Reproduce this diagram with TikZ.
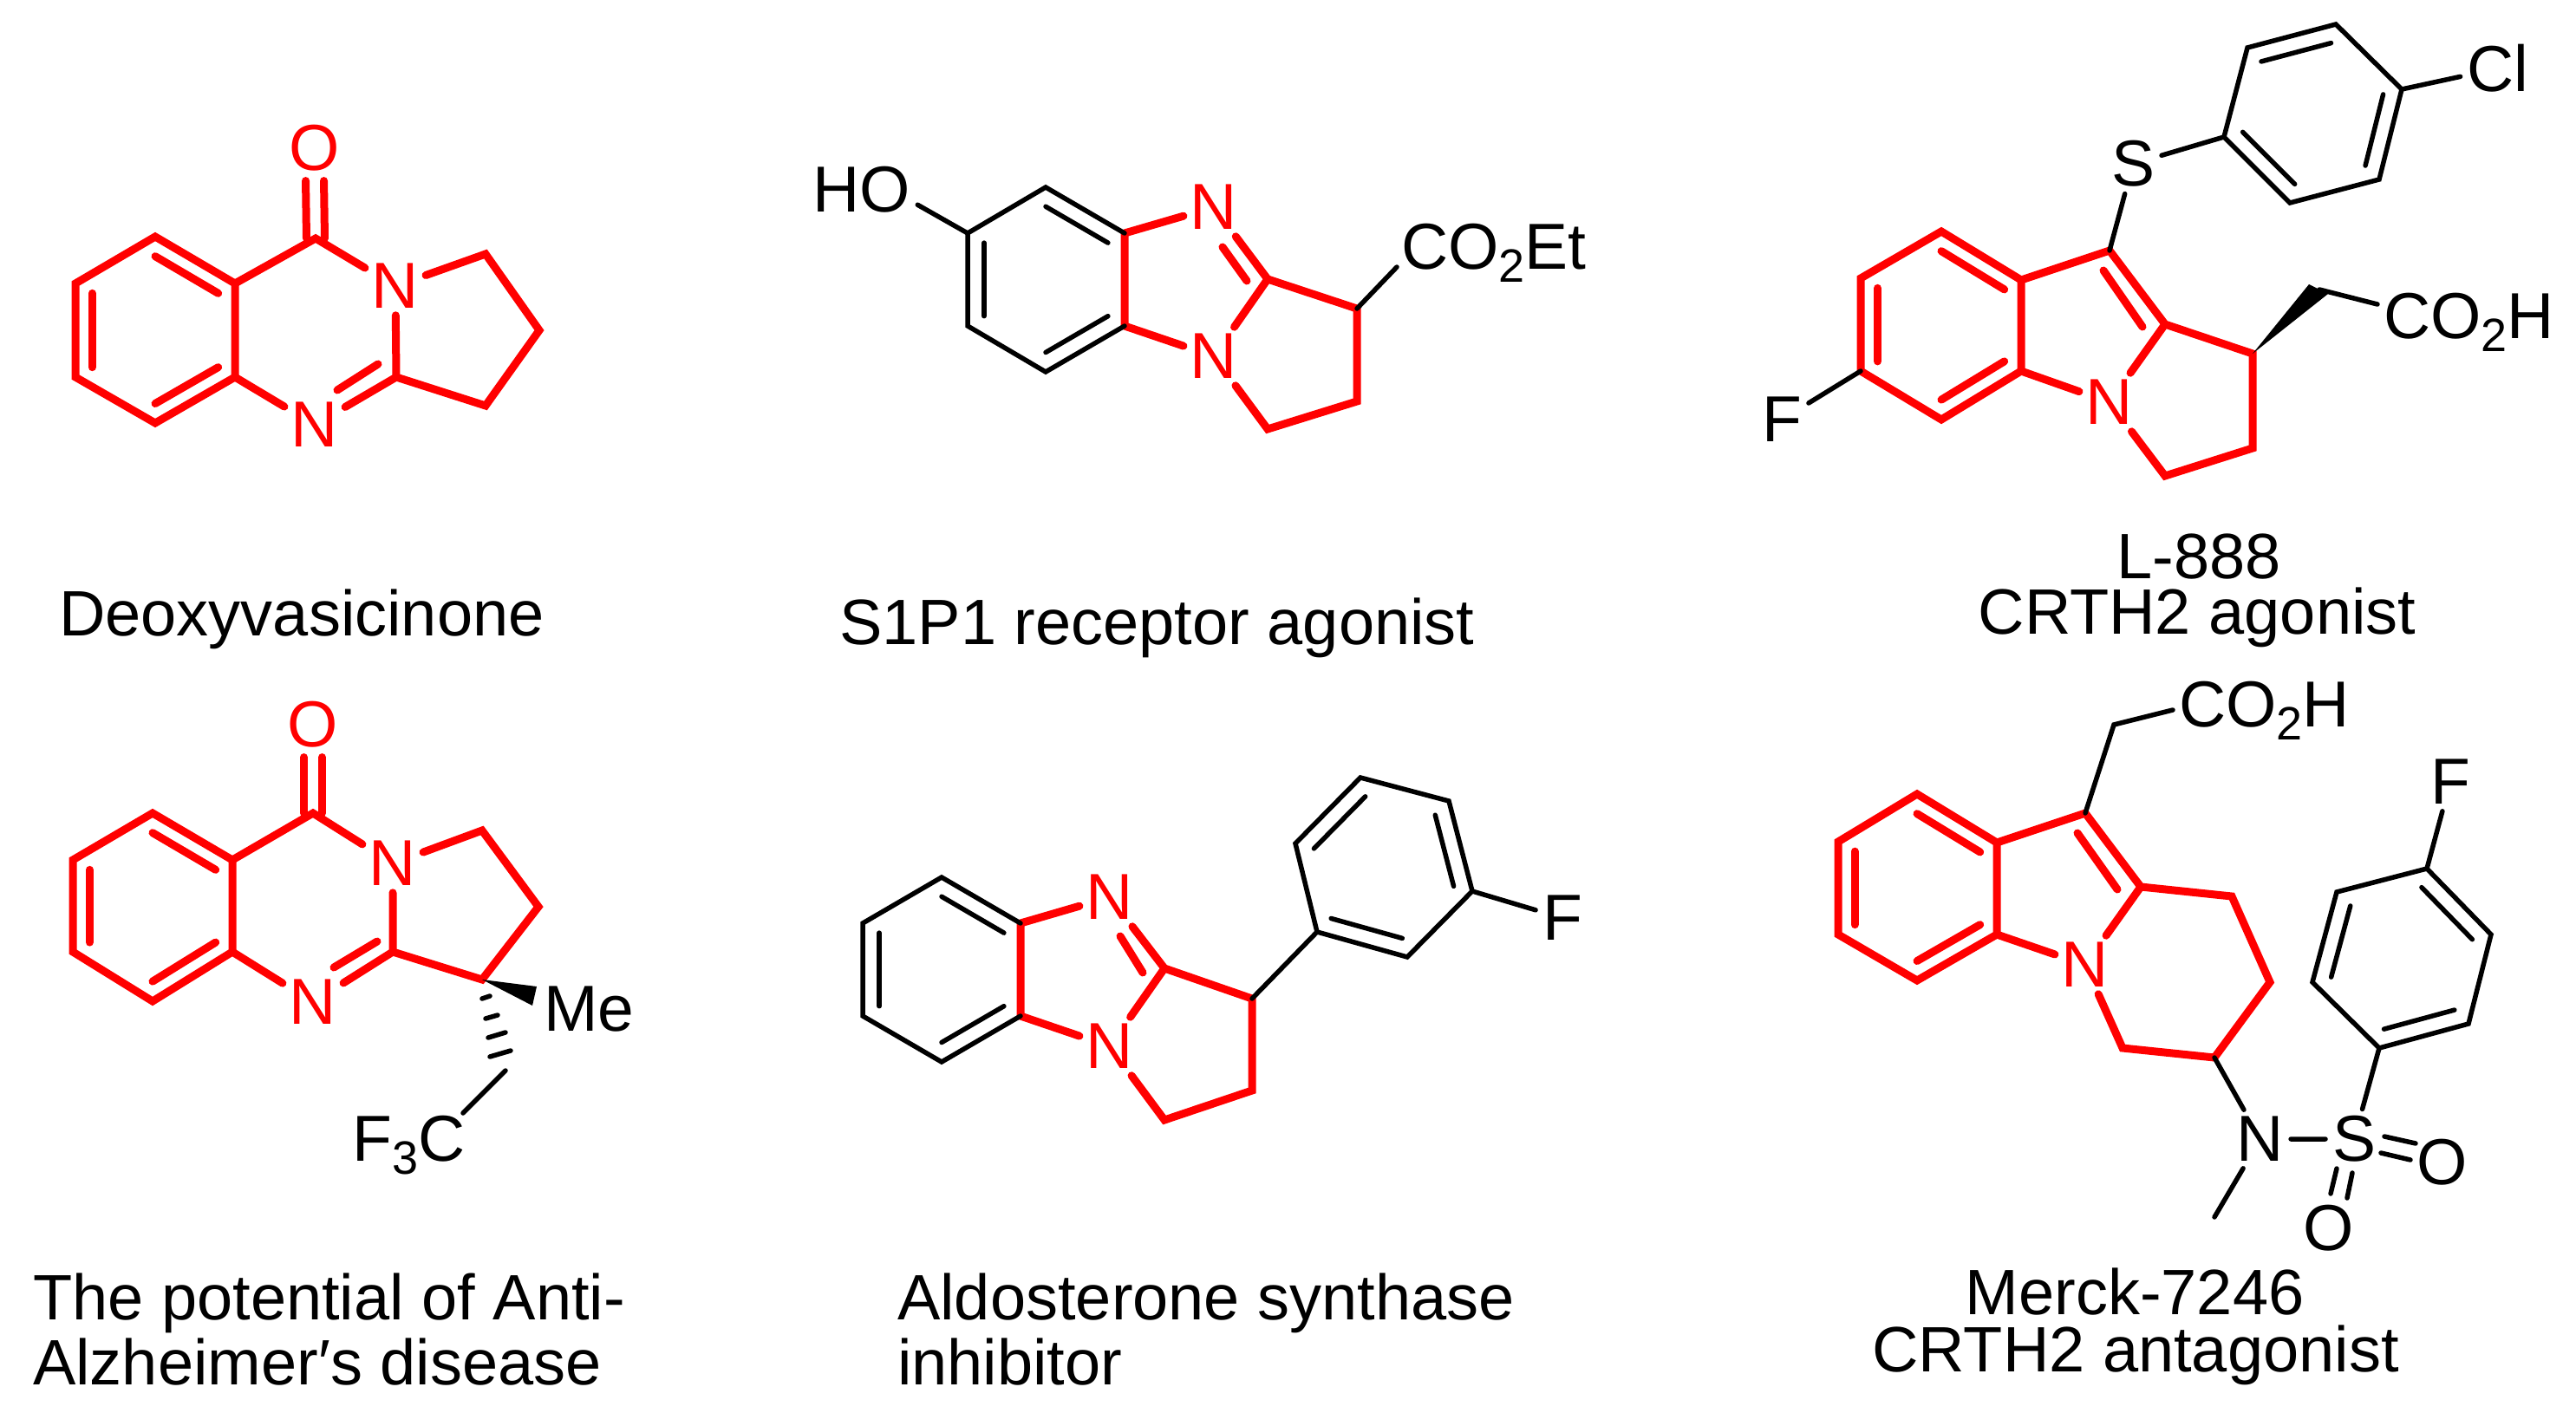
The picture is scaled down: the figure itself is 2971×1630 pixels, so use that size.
\documentclass[tikz,border=0pt]{standalone}
\usepackage{fontspec}
\setmainfont{Liberation Sans}
\usetikzlibrary{calc}
\newcommand{\chemsub}[1]{\raisebox{-15pt}{\fontsize{54}{54}\selectfont #1}}
\newcommand{\inbond}[4]{\draw[#1] ($(#2)!.79!(#3)$) -- ($(#2)!.79!(#4)$);}

\begin{document}
\begin{tikzpicture}[
   x=1pt,y=-1pt,
   font=\fontsize{75}{80}\selectfont,
   redbond/.style={red,line width=9pt,line cap=round,line join=miter},
   blackbond/.style={black,line width=5.5pt,line cap=round,line join=miter},
   atom/.style={inner sep=0pt,outer sep=8pt},
   redatom/.style={atom,text=red},
   formula/.style={inner sep=0pt,anchor=base west},
   caption/.style={inner sep=0pt,anchor=base west,font=\fontsize{74}{80}\selectfont},
   captionmid/.style={inner sep=0pt,anchor=base,font=\fontsize{74}{80}\selectfont}
  ]
  \useasboundingbox (0,0) rectangle (2971,1630);
  % deoxyvasicinone
  \coordinate (a1) at (179,273);
  \coordinate (a2) at (87,327);
  \coordinate (a3) at (87,435);
  \coordinate (a4) at (179,488);
  \coordinate (a5) at (271,435);
  \coordinate (a6) at (271,327);
  \coordinate (a7) at (364,275);
  \coordinate (a10) at (457,435);
  \coordinate (a11) at (560,468);
  \coordinate (a12) at (622,381);
  \coordinate (a13) at (560,293);
  \coordinate (ac) at (179,381);
  \coordinate (a15) at (389,450);
  \coordinate (a16) at (436,420);
  \node[redatom] (a8) at (456,330) {N};
  \node[redatom] (a9) at (363,490) {N};
  \node[redatom] (a14) at (363,171) {O};
  \draw[redbond] (a1) -- (a2) -- (a3) -- (a4) -- (a5) -- (a6) -- cycle;
  \draw[redbond] (a6) -- (a7) -- (a8) -- (a10) -- (a9) -- (a5);
  \draw[redbond] (a8) -- (a13) -- (a12) -- (a11) -- (a10);
  \draw[redbond,shorten >=3pt] ([xshift=-10.5pt]a7) -- ([xshift=-10.5pt]a14.south);
  \draw[redbond,shorten >=3pt] ([xshift=10.5pt]a7) -- ([xshift=10.5pt]a14.south);
  \draw[redbond] (a15) -- (a16);
  \inbond{redbond}{ac}{a1}{a6}
  \inbond{redbond}{ac}{a2}{a3}
  \inbond{redbond}{ac}{a4}{a5}
  \node[caption] (a17) at (68,733) {Deoxyvasicinone};

  % S1P1 agonist
  \coordinate (b1) at (1116,269);
  \coordinate (b2) at (1206,216);
  \coordinate (b3) at (1297,269);
  \coordinate (b4) at (1297,376);
  \coordinate (b5) at (1206,429);
  \coordinate (b6) at (1116,376);
  \coordinate (bc) at (1206,322);
  \coordinate (b7) at (1462,322);
  \coordinate (b8) at (1565,356);
  \coordinate (b9) at (1565,463);
  \coordinate (b10) at (1462,495);
  \coordinate (b11) at (1611,308);
  \coordinate (b12) at (1410,285);
  \coordinate (b13) at (1438,324);
  \node[redatom] (bn1) at (1400,239) {N};
  \node[redatom] (bn2) at (1400,411) {N};
  \node[atom] (bho) at (994,219) {HO};
  \node[formula] (bco) at (1616,310) {CO\chemsub{2}Et};
  \draw[redbond] (b3) -- (b4) -- (bn2) -- (b7) -- (bn1) -- (b3);
  \draw[redbond] (b7) -- (b8) -- (b9) -- (b10) -- (bn2);
  \draw[redbond] (b12) -- (b13);
  \draw[blackbond] (b3) -- (b2) -- (b1) -- (b6) -- (b5) -- (b4);
  \draw[blackbond] (b1) -- (bho.-15);
  \draw[blackbond] (b8) -- (b11);
  \inbond{blackbond}{bc}{b2}{b3}
  \inbond{blackbond}{bc}{b1}{b6}
  \inbond{blackbond}{bc}{b4}{b5}
  \node[caption] (b14) at (968,743) {S1P1 receptor agonist};

  % L-888
  \coordinate (i1) at (2239,267);
  \coordinate (i2) at (2146,321);
  \coordinate (i3) at (2146,428);
  \coordinate (i4) at (2239,484);
  \coordinate (i5) at (2331,428);
  \coordinate (i6) at (2331,323);
  \coordinate (ic) at (2239,375);
  \coordinate (i7) at (2433,289);
  \coordinate (i8) at (2497,374);
  \coordinate (i9) at (2598,408);
  \coordinate (i10) at (2598,517);
  \coordinate (i11) at (2497,549);
  \coordinate (i12) at (2426,312);
  \coordinate (i13) at (2471,377);
  \coordinate (i14) at (2663,328);
  \coordinate (i15) at (2685,339);
  \coordinate (i16) at (2675,334);
  \coordinate (i17) at (2742,351);
  \node[redatom] (in) at (2433,464) {N};
  \node[atom] (if) at (2055,484) {F};
  \node[atom] (is) at (2460,189) {S};
  \node[atom] (icl) at (2881,79) {Cl};
  \node[formula] (ico) at (2749,390) {CO\chemsub{2}H};
  \draw[redbond] (i1) -- (i2) -- (i3) -- (i4) -- (i5) -- (i6) -- cycle;
  \draw[redbond] (i6) -- (i7) -- (i8) -- (i9) -- (i10) -- (i11) -- (in) -- (i8);
  \draw[redbond] (i5) -- (in);
  \draw[redbond] (i12) -- (i13);
  \inbond{redbond}{ic}{i1}{i6}
  \inbond{redbond}{ic}{i2}{i3}
  \inbond{redbond}{ic}{i4}{i5}
  \coordinate (p1) at (2565,158);
  \coordinate (p2) at (2592,55);
  \coordinate (p3) at (2694,28);
  \coordinate (p4) at (2770,103);
  \coordinate (p5) at (2744,207);
  \coordinate (p6) at (2641,234);
  \coordinate (pc) at (2668,131);
  \draw[blackbond] (p1) -- (p2) -- (p3) -- (p4) -- (p5) -- (p6) -- cycle;
  \inbond{blackbond}{pc}{p2}{p3}
  \inbond{blackbond}{pc}{p4}{p5}
  \inbond{blackbond}{pc}{p6}{p1}
  \draw[blackbond] (i3) -- (if);
  \draw[blackbond] (i7) -- (is) -- (p1);
  \draw[blackbond] (p4) -- (icl);
  \fill (i9) -- (i14) -- (i15) -- cycle;
  \draw[blackbond] (i16) -- (i17);
  \node[captionmid] (i18) at (2536,667) {L-888};
  \node[captionmid] (i19) at (2534,731) {CRTH2 agonist};

  % anti-Alzheimer
  \coordinate (d1) at (176,938);
  \coordinate (d2) at (84,992);
  \coordinate (d3) at (84,1098);
  \coordinate (d4) at (176,1155);
  \coordinate (d5) at (268,1098);
  \coordinate (d6) at (268,992);
  \coordinate (dc) at (176,1046);
  \coordinate (d7) at (361,938);
  \coordinate (d10) at (453,1098);
  \coordinate (d11) at (556,1130);
  \coordinate (d12) at (621,1046);
  \coordinate (d13) at (556,958);
  \coordinate (d15) at (385,1116);
  \coordinate (d16) at (435,1086);
  \coordinate (d17) at (619,1138);
  \coordinate (d18) at (614,1160);
  \coordinate (d19) at (583,1235);
  \node[redatom] (d8) at (453,996) {N};
  \node[redatom] (d9) at (361,1156) {N};
  \node[redatom] (d14) at (361,836) {O};
  \node[formula] (dme) at (627,1189) {Me};
  \node[formula] (dcf) at (406,1339) {F\chemsub{3}C};
  \draw[redbond] (d1) -- (d2) -- (d3) -- (d4) -- (d5) -- (d6) -- cycle;
  \draw[redbond] (d6) -- (d7) -- (d8) -- (d10) -- (d9) -- (d5);
  \draw[redbond] (d8) -- (d13) -- (d12) -- (d11) -- (d10);
  \draw[redbond,shorten >=3pt] ([xshift=-10.5pt]d7) -- ([xshift=-10.5pt]d14.south);
  \draw[redbond,shorten >=3pt] ([xshift=10.5pt]d7) -- ([xshift=10.5pt]d14.south);
  \draw[redbond] (d15) -- (d16);
  \inbond{redbond}{dc}{d1}{d6}
  \inbond{redbond}{dc}{d2}{d3}
  \inbond{redbond}{dc}{d4}{d5}
  \fill (d11) -- (d17) -- (d18) -- cycle;
  \draw[blackbond] (556,1152) -- (565,1149);
  \draw[blackbond] (560,1175) -- (574,1171);
  \draw[blackbond] (563,1197) -- (583,1191);
  \draw[blackbond] (565,1219) -- (589,1212);
  \coordinate (d22) at (534,1284);
  \draw[blackbond] (d19) -- (d22);
  \node[caption] (d20) at (38,1522) {The potential of Anti-};
  \node[caption] (d21) at (38,1597) {Alzheimer′s disease};

  % aldosterone synthase inhibitor
  \coordinate (e1) at (1086,1012);
  \coordinate (e2) at (995,1065);
  \coordinate (e3) at (995,1172);
  \coordinate (e4) at (1086,1225);
  \coordinate (e5) at (1177,1172);
  \coordinate (e6) at (1177,1065);
  \coordinate (ec) at (1086,1118);
  \coordinate (e7) at (1343,1117);
  \coordinate (e8) at (1444,1152);
  \coordinate (e9) at (1444,1258);
  \coordinate (e10) at (1343,1292);
  \coordinate (e11) at (1292,1080);
  \coordinate (e12) at (1318,1122);
  \coordinate (f1) at (1519,1075);
  \coordinate (f2) at (1494,973);
  \coordinate (f3) at (1569,897);
  \coordinate (f4) at (1671,924);
  \coordinate (f5) at (1698,1028);
  \coordinate (f6) at (1623,1104);
  \coordinate (fc) at (1596,1001);
  \node[redatom] (en1) at (1280,1035) {N};
  \node[redatom] (en2) at (1280,1207) {N};
  \node[atom] (ef) at (1802,1059) {F};
  \draw[redbond] (e6) -- (e5) -- (en2) -- (e7) -- (en1) -- (e6);
  \draw[redbond] (e7) -- (e8) -- (e9) -- (e10) -- (en2);
  \draw[redbond] (e11) -- (e12);
  \draw[blackbond] (e6) -- (e1) -- (e2) -- (e3) -- (e4) -- (e5);
  \inbond{blackbond}{ec}{e1}{e6}
  \inbond{blackbond}{ec}{e2}{e3}
  \inbond{blackbond}{ec}{e4}{e5}
  \draw[blackbond] (e8) -- (f1);
  \draw[blackbond] (f1) -- (f2) -- (f3) -- (f4) -- (f5) -- (f6) -- cycle;
  \inbond{blackbond}{fc}{f2}{f3}
  \inbond{blackbond}{fc}{f4}{f5}
  \inbond{blackbond}{fc}{f6}{f1}
  \draw[blackbond] (f5) -- (ef);
  \node[caption] (e13) at (1035,1522) {Aldosterone synthase};
  \node[caption] (e14) at (1035,1597) {inhibitor};

  % Merck-7246
  \coordinate (g1) at (2211,916);
  \coordinate (g2) at (2120,971);
  \coordinate (g3) at (2120,1078);
  \coordinate (g4) at (2211,1131);
  \coordinate (g5) at (2303,1078);
  \coordinate (g6) at (2303,972);
  \coordinate (gc) at (2211,1024);
  \coordinate (g7) at (2405,938);
  \coordinate (g8) at (2469,1023);
  \coordinate (g9) at (2574,1034);
  \coordinate (g10) at (2618,1133);
  \coordinate (g11) at (2554,1220);
  \coordinate (g12) at (2448,1209);
  \coordinate (g13) at (2396,961);
  \coordinate (g14) at (2442,1026);
  \coordinate (g15) at (2438,836);
  \coordinate (g16) at (2506,819);
  \coordinate (g17) at (2554,1404);
  \node[redatom] (gn) at (2405,1113) {N};
  \node[formula] (gco) at (2513,838) {CO\chemsub{2}H};
  \node[atom] (gn2) at (2607,1314) {N};
  \node[atom] (gs) at (2715,1314) {S};
  \node[atom] (go1) at (2817,1341) {O};
  \node[atom] (go2) at (2686,1417) {O};
  \draw[redbond] (g1) -- (g2) -- (g3) -- (g4) -- (g5) -- (g6) -- cycle;
  \draw[redbond] (g6) -- (g7) -- (g8) -- (g9) -- (g10) -- (g11) -- (g12) -- (gn) -- (g8);
  \draw[redbond] (g5) -- (gn);
  \draw[redbond] (g13) -- (g14);
  \inbond{redbond}{gc}{g1}{g6}
  \inbond{redbond}{gc}{g2}{g3}
  \inbond{redbond}{gc}{g4}{g5}
  \coordinate (h1) at (2744,1209);
  \coordinate (h2) at (2847,1181);
  \coordinate (h3) at (2873,1078);
  \coordinate (h4) at (2799,1002);
  \coordinate (h5) at (2695,1029);
  \coordinate (h6) at (2667,1133);
  \coordinate (hc) at (2770,1105);
  \node[atom] (hf) at (2826,902) {F};
  \draw[blackbond] (h1) -- (h2) -- (h3) -- (h4) -- (h5) -- (h6) -- cycle;
  \inbond{blackbond}{hc}{h1}{h2}
  \inbond{blackbond}{hc}{h3}{h4}
  \inbond{blackbond}{hc}{h5}{h6}
  \draw[blackbond] (h4) -- (hf);
  \draw[blackbond] (g7) -- (g15) -- (g16);
  \draw[blackbond] (g11) -- (gn2) -- (g17);
  \draw[blackbond] (gn2) -- (gs) -- (h1);
  \draw[blackbond] (2750,1311) -- (2786,1319);
  \draw[blackbond] (2746,1330) -- (2780,1338);
  \draw[blackbond] (2695,1348) -- (2688,1377);
  \draw[blackbond] (2713,1353) -- (2707,1382);
  \node[captionmid] (g18) at (2462,1516) {Merck-7246};
  \node[captionmid] (g19) at (2463,1582) {CRTH2 antagonist};
\end{tikzpicture}
\end{document}
